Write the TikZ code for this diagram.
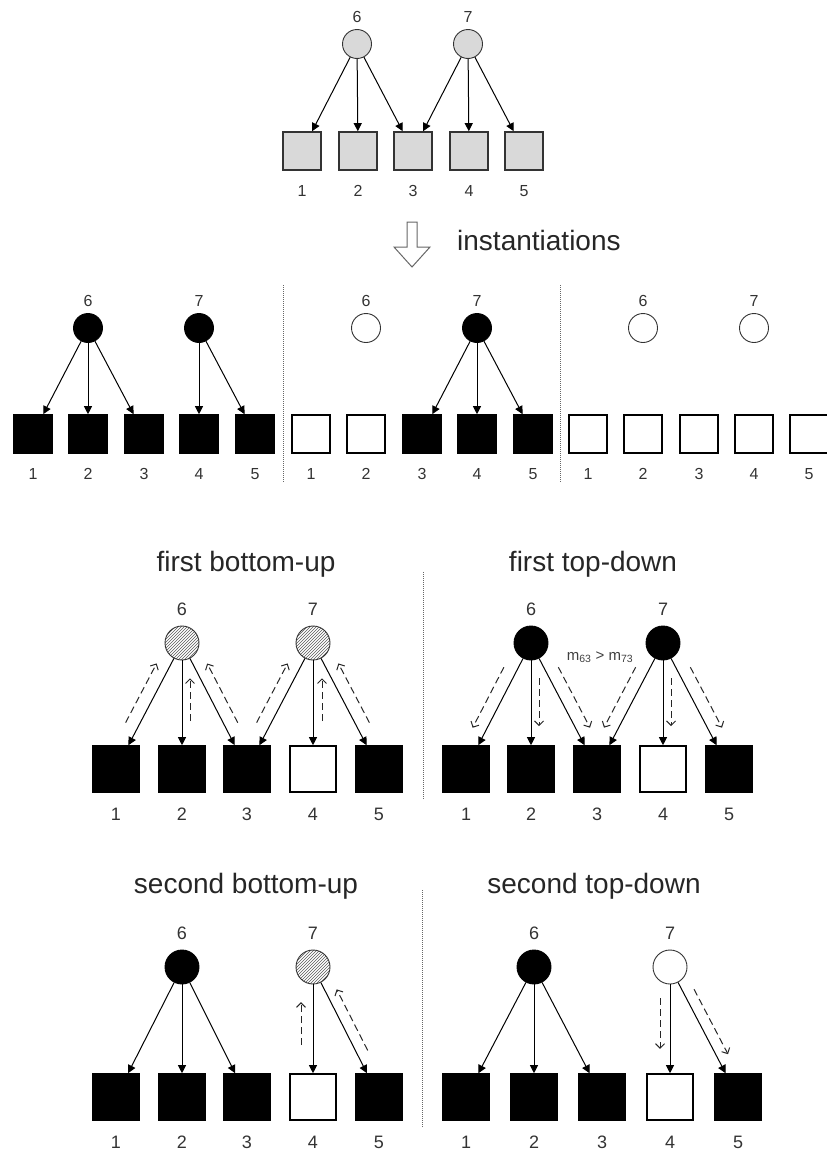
\documentclass[tikz,border=0pt]{standalone}
\usepackage{fontspec}
\setmainfont{Liberation Sans}
\usetikzlibrary{arrows.meta,calc,patterns}
\tikzstyle{var}=[circle,draw=black!80,line width=0.9pt,minimum size=29pt,inner sep=0pt]
\tikzstyle{bigvar}=[var,minimum size=34pt]
\tikzstyle{obs}=[rectangle,draw=black,line width=1.6pt,minimum size=38pt,inner sep=0pt]
\tikzstyle{bigobs}=[obs,minimum size=46pt]
\tikzstyle{on}=[fill=black,draw=black]
\tikzstyle{off}=[fill=white]
\tikzstyle{prior}=[fill=black!15,draw=black!80]
\tikzstyle{hatch}=[pattern=north east lines,pattern color=black!65]
\tikzstyle{edge}=[line width=1pt,-{Triangle[length=8pt,width=8pt]}]
\tikzstyle{msg}=[line width=1pt,black!85,dash pattern=on 7pt off 4pt,-{Straight Barb[length=4.5pt,width=9pt]}]
\tikzstyle{sep}=[black!60,line width=1pt,dash pattern=on 1pt off 1pt]
\tikzstyle{title}=[font=\fontsize{28}{34}\selectfont,text=black!85]
\tikzstyle{every label}=[font=\fontsize{16}{19}\selectfont,text=black!80,inner sep=2pt]
\tikzstyle{up}=[label distance=4.5pt]
\tikzstyle{dn}=[label distance=12pt]

\begin{document}
\begin{tikzpicture}[x=1pt,y=-1pt]
\useasboundingbox (0,0) rectangle (827,1159);

% the network
\node[var,prior,label={[up]above:6}] (a6) at (357,44) {};
\node[var,prior,label={[up]above:7}] (a7) at (468,44) {};
\node[obs,prior,draw=black!80,label={[dn]below:1}] (a1) at (302,151) {};
\node[obs,prior,draw=black!80,label={[dn]below:2}] (a2) at (358,151) {};
\node[obs,prior,draw=black!80,label={[dn]below:3}] (a3) at (413,151) {};
\node[obs,prior,draw=black!80,label={[dn]below:4}] (a4) at (469,151) {};
\node[obs,prior,draw=black!80,label={[dn]below:5}] (a5) at (524,151) {};
\draw[edge] (a6) -- (a1);
\draw[edge] (a6) -- (a2);
\draw[edge] (a6) -- (a3);
\draw[edge] (a7) -- (a3);
\draw[edge] (a7) -- (a4);
\draw[edge] (a7) -- (a5);

\draw[black!60,line width=1pt] (407,222) -- (407,247) -- (394,247) -- (412,267)
  -- (430,247) -- (417,247) -- (417,222) -- cycle;
\node[title,anchor=base west,inner sep=0pt] (inst) at (457,250) {instantiations};

% three instantiations
\node[var,on,label={[up]above:6}] (b6) at (88,328) {};
\node[var,on,label={[up]above:7}] (b7) at (199,328) {};
\node[obs,on,label={[dn]below:1}] (b1) at (33,434) {};
\node[obs,on,label={[dn]below:2}] (b2) at (88,434) {};
\node[obs,on,label={[dn]below:3}] (b3) at (144,434) {};
\node[obs,on,label={[dn]below:4}] (b4) at (199,434) {};
\node[obs,on,label={[dn]below:5}] (b5) at (255,434) {};
\draw[edge] (b6) -- (b1);
\draw[edge] (b6) -- (b2);
\draw[edge] (b6) -- (b3);
\draw[edge] (b7) -- (b4);
\draw[edge] (b7) -- (b5);

\node[var,off,label={[up]above:6}] (c6) at (366,328) {};
\node[var,on,label={[up]above:7}] (c7) at (477,328) {};
\node[obs,off,label={[dn]below:1}] (c1) at (311,434) {};
\node[obs,off,label={[dn]below:2}] (c2) at (366,434) {};
\node[obs,on,label={[dn]below:3}] (c3) at (422,434) {};
\node[obs,on,label={[dn]below:4}] (c4) at (477,434) {};
\node[obs,on,label={[dn]below:5}] (c5) at (533,434) {};
\draw[edge] (c7) -- (c3);
\draw[edge] (c7) -- (c4);
\draw[edge] (c7) -- (c5);

\node[var,off,label={[up]above:6}] (d6) at (643,328) {};
\node[var,off,label={[up]above:7}] (d7) at (754,328) {};
\node[obs,off,label={[dn]below:1}] (d1) at (588,434) {};
\node[obs,off,label={[dn]below:2}] (d2) at (643,434) {};
\node[obs,off,label={[dn]below:3}] (d3) at (699,434) {};
\node[obs,off,label={[dn]below:4}] (d4) at (754,434) {};
\node[obs,off,label={[dn]below:5}] (d5) at (809,434) {};

\draw[sep] (283,285) -- (283,482);
\draw[sep] (560,285) -- (560,482);

\begin{scope}[every label/.append style={font=\fontsize{18}{21}\selectfont},
  up/.style={label distance=7.5pt}, dn/.style={label distance=13pt}]
% first pass
\node[title] (ttl1) at (246,564) {first bottom-up};
\node[bigvar,hatch,label={[up]above:6}] (e6) at (182,643) {};
\node[bigvar,hatch,label={[up]above:7}] (e7) at (313,643) {};
\node[bigobs,on,label={[dn]below:1}] (e1) at (116,769) {};
\node[bigobs,on,label={[dn]below:2}] (e2) at (182,769) {};
\node[bigobs,on,label={[dn]below:3}] (e3) at (247,769) {};
\node[bigobs,off,label={[dn]below:4}] (e4) at (313,769) {};
\node[bigobs,on,label={[dn]below:5}] (e5) at (379,769) {};
\draw[edge] (e6) -- (e1);
\draw[edge] (e6) -- (e2);
\draw[edge] (e6) -- (e3);
\draw[edge] (e7) -- (e3);
\draw[edge] (e7) -- (e4);
\draw[edge] (e7) -- (e5);
\draw[msg] ($(e6)!0.68!(e1)!13pt!-90:(e1)$) -- ($(e6)!0.21!(e1)!13pt!-90:(e1)$);
\draw[msg] ($(e6)!0.62!(e2)!8pt!90:(e2)$) -- ($(e6)!0.28!(e2)!8pt!90:(e2)$);
\draw[msg] ($(e6)!0.68!(e3)!13pt!90:(e3)$) -- ($(e6)!0.21!(e3)!13pt!90:(e3)$);
\draw[msg] ($(e7)!0.68!(e3)!13pt!-90:(e3)$) -- ($(e7)!0.21!(e3)!13pt!-90:(e3)$);
\draw[msg] ($(e7)!0.62!(e4)!9pt!90:(e4)$) -- ($(e7)!0.28!(e4)!9pt!90:(e4)$);
\draw[msg] ($(e7)!0.68!(e5)!13pt!90:(e5)$) -- ($(e7)!0.21!(e5)!13pt!90:(e5)$);

\node[title] (ttl2) at (593,564) {first top-down};
\node[bigvar,on,label={[up]above:6}] (f6) at (531,643) {};
\node[bigvar,on,label={[up]above:7}] (f7) at (663,643) {};
\node[bigobs,on,label={[dn]below:1}] (f1) at (466,769) {};
\node[bigobs,on,label={[dn]below:2}] (f2) at (531,769) {};
\node[bigobs,on,label={[dn]below:3}] (f3) at (597,769) {};
\node[bigobs,off,label={[dn]below:4}] (f4) at (663,769) {};
\node[bigobs,on,label={[dn]below:5}] (f5) at (729,769) {};
\draw[edge] (f6) -- (f1);
\draw[edge] (f6) -- (f2);
\draw[edge] (f6) -- (f3);
\draw[edge] (f7) -- (f3);
\draw[edge] (f7) -- (f4);
\draw[edge] (f7) -- (f5);
\draw[msg] ($(f6)!0.24!(f1)!13pt!-90:(f1)$) -- ($(f6)!0.72!(f1)!13pt!-90:(f1)$);
\draw[msg] ($(f6)!0.28!(f2)!8pt!90:(f2)$) -- ($(f6)!0.66!(f2)!8pt!90:(f2)$);
\draw[msg] ($(f6)!0.24!(f3)!13pt!90:(f3)$) -- ($(f6)!0.72!(f3)!13pt!90:(f3)$);
\draw[msg] ($(f7)!0.24!(f3)!13pt!-90:(f3)$) -- ($(f7)!0.72!(f3)!13pt!-90:(f3)$);
\draw[msg] ($(f7)!0.28!(f4)!8pt!90:(f4)$) -- ($(f7)!0.66!(f4)!8pt!90:(f4)$);
\draw[msg] ($(f7)!0.24!(f5)!13pt!90:(f5)$) -- ($(f7)!0.72!(f5)!13pt!90:(f5)$);
\node[font=\fontsize{15}{18}\selectfont,text=black!75] (cmp) at (600,657)
  {m\textsubscript{63} > m\textsubscript{73}};

\draw[sep] (423,572) -- (423,800);

% second pass
\node[title] (ttl3) at (246,886) {second bottom-up};
\node[bigvar,on,label={[up]above:6}] (g6) at (182,967) {};
\node[bigvar,hatch,label={[up]above:7}] (g7) at (313,967) {};
\node[bigobs,on,label={[dn]below:1}] (g1) at (116,1097) {};
\node[bigobs,on,label={[dn]below:2}] (g2) at (182,1097) {};
\node[bigobs,on,label={[dn]below:3}] (g3) at (247,1097) {};
\node[bigobs,off,label={[dn]below:4}] (g4) at (313,1097) {};
\node[bigobs,on,label={[dn]below:5}] (g5) at (379,1097) {};
\draw[edge] (g6) -- (g1);
\draw[edge] (g6) -- (g2);
\draw[edge] (g6) -- (g3);
\draw[edge] (g7) -- (g4);
\draw[edge] (g7) -- (g5);
\draw[msg] ($(g7)!0.6!(g4)!12pt!-90:(g4)$) -- ($(g7)!0.27!(g4)!12pt!-90:(g4)$);
\draw[msg] ($(g7)!0.68!(g5)!11pt!90:(g5)$) -- ($(g7)!0.21!(g5)!11pt!90:(g5)$);

\node[title] (ttl4) at (594,886) {second top-down};
\node[bigvar,on,label={[up]above:6}] (h6) at (534,967) {};
\node[bigvar,off,label={[up]above:7}] (h7) at (670,967) {};
\node[bigobs,on,label={[dn]below:1}] (h1) at (466,1097) {};
\node[bigobs,on,label={[dn]below:2}] (h2) at (534,1097) {};
\node[bigobs,on,label={[dn]below:3}] (h3) at (602,1097) {};
\node[bigobs,off,label={[dn]below:4}] (h4) at (670,1097) {};
\node[bigobs,on,label={[dn]below:5}] (h5) at (738,1097) {};
\draw[edge] (h6) -- (h1);
\draw[edge] (h6) -- (h2);
\draw[edge] (h6) -- (h3);
\draw[edge] (h7) -- (h4);
\draw[edge] (h7) -- (h5);
\draw[msg] ($(h7)!0.24!(h4)!10pt!-90:(h4)$) -- ($(h7)!0.63!(h4)!10pt!-90:(h4)$);
\draw[msg] ($(h7)!0.21!(h5)!11pt!90:(h5)$) -- ($(h7)!0.71!(h5)!11pt!90:(h5)$);

\draw[sep] (422,890) -- (422,1127);
\end{scope}
\end{tikzpicture}
\end{document}
